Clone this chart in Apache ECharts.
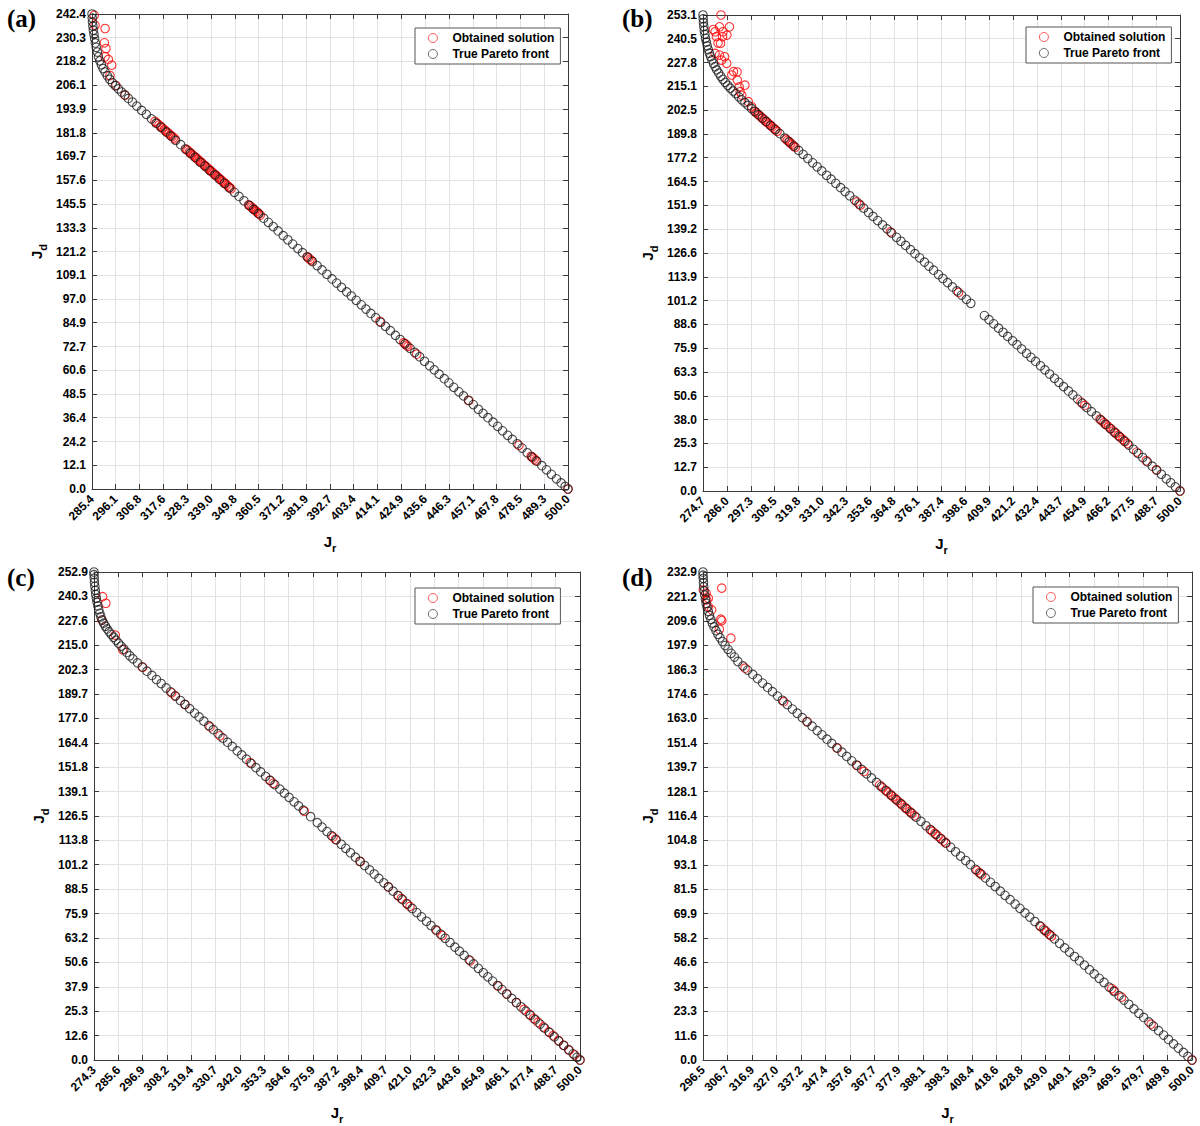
<!DOCTYPE html>
<html><head><meta charset="utf-8">
<script src="https://cdn.jsdelivr.net/npm/echarts@6/dist/echarts.min.js"></script>
<style>html,body{margin:0;padding:0;background:#fff}#c{width:1200px;height:1126px}</style>
</head><body><div id="c"></div>
<script>
// ---------- tick labels ----------
const jrTicksA = [285.4,296.1,306.8,317.6,328.3,339.0,349.8,360.5,371.2,381.9,392.7,403.4,414.1,424.9,435.6,446.3,457.1,467.8,478.5,489.3,500.0];
const jdTicksA = [0.0,12.1,24.2,36.4,48.5,60.6,72.7,84.9,97.0,109.1,121.2,133.3,145.5,157.6,169.7,181.8,193.9,206.1,218.2,230.3,242.4];
const jrTicksB = [274.7,286.0,297.3,308.5,319.8,331.0,342.3,353.6,364.8,376.1,387.4,398.6,409.9,421.2,432.4,443.7,454.9,466.2,477.5,488.7,500.0];
const jdTicksB = [0.0,12.7,25.3,38.0,50.6,63.3,75.9,88.6,101.2,113.9,126.6,139.2,151.9,164.5,177.2,189.8,202.5,215.1,227.8,240.5,253.1];
const jrTicksC = [274.3,285.6,296.9,308.2,319.4,330.7,342.0,353.3,364.6,375.9,387.2,398.4,409.7,421.0,432.3,443.6,454.9,466.1,477.4,488.7,500.0];
const jdTicksC = [0.0,12.6,25.3,37.9,50.6,63.2,75.9,88.5,101.2,113.8,126.5,139.1,151.8,164.4,177.0,189.7,202.3,215.0,227.6,240.3,252.9];
const jrTicksD = [296.5,306.7,316.9,327.0,337.2,347.4,357.6,367.7,377.9,388.1,398.3,408.4,418.6,428.8,439.0,449.1,459.3,469.5,479.7,489.8,500.0];
const jdTicksD = [0.0,11.6,23.3,34.9,46.6,58.2,69.9,81.5,93.1,104.8,116.4,128.1,139.7,151.4,163.0,174.6,186.3,197.9,209.6,221.2,232.9];

// ---------- series: [Jr, Jd] ----------
const trueFrontA = [[285.4,242.4],[285.5,240.3],[285.6,238.3],[285.8,236.2],[286.0,234.1],[286.3,232.0],[286.6,229.8],[286.9,227.6],[287.3,225.4],[287.8,223.0],[288.3,220.6],[288.9,218.5],[289.6,216.5],[290.4,214.6],[291.3,212.8],[292.3,210.9],[293.4,209.1],[294.6,207.3],[295.9,205.8],[297.3,204.2],[298.7,202.6],[300.2,201.1],[301.8,199.3],[303.6,197.5],
[305.6,195.4],[307.8,193.2],[309.9,191.2],[312.2,188.9],[314.3,186.7],[316.5,184.6],[318.8,182.2],[320.9,180.2],[323.1,177.9],[325.4,175.7],[327.5,173.5],[329.7,171.4],[331.9,169.2],[334.2,166.8],[336.3,164.8],[338.5,162.5],[340.8,160.3],[342.9,158.1],[345.1,156.0],[347.3,153.7],[349.6,151.4],[351.7,149.3],[353.9,147.1],[356.2,144.8],[358.3,142.7],[360.5,140.5],[362.8,138.2],[364.9,136.1],[367.1,133.9],[369.3,131.7],[371.6,129.3],[373.7,127.2],[375.9,125.0],[378.2,122.7],[380.3,120.6],[382.5,118.4],[384.8,116.1],[386.9,114.0],[389.1,111.8],[391.3,109.6],[393.6,107.2],[395.7,105.1],[397.9,102.9],[400.2,100.6],[402.3,98.5],[404.5,96.3],[406.8,94.0],[408.9,91.8],[411.1,89.6],[413.3,87.4],[415.6,85.1],[417.7,83.0],[419.9,80.8],[422.2,78.4],[424.3,76.3],[426.5,74.1],[428.8,71.8],[430.9,69.7],[433.1,67.5],[435.3,65.2],[437.6,62.9],[439.7,60.8],[441.9,58.6],[444.2,56.3],[446.3,54.2],[448.5,51.9],[450.8,49.6],[452.9,47.5],[455.1,45.3],[457.3,43.1],[459.6,40.7],[461.7,38.6],[463.9,36.4],[466.2,34.1],[468.3,32.0],[470.5,29.7],[472.8,27.4],[474.9,25.3],[477.1,23.1],[479.3,20.9],[481.6,18.5],[483.7,16.4],[485.9,14.2],[488.2,11.9],[490.3,9.8],[492.5,7.5],[494.8,5.2],[496.9,3.1],[498.7,1.3],[500.0,0.0]];
const obtainedA = [[286.4,241.8],[286.8,236.7],[291.3,235.0],[291.0,227.7],[291.7,224.8],[291.3,220.6],[292.8,219.2],[294.3,216.3],[293.5,211.0],[296.2,206.0],[300.3,201.0],
[313.8,187.6],[314.7,186.7],[315.6,185.8],[316.4,185.0],[317.2,184.2],[318.0,183.4],[318.6,182.8],[319.4,182.0],[320.1,181.3],[320.8,180.6],[321.5,179.9],[322.2,179.2],[322.8,178.6],
[328.0,173.3],[328.6,172.7],[329.3,172.0],[329.9,171.4],[330.5,170.8],[331.2,170.1],[331.8,169.5],[332.4,168.9],[333.0,168.3],[333.7,167.6],[334.3,167.0],[334.9,166.4],[335.5,165.8],[336.2,165.1],[336.8,164.5],[337.4,163.9],[338.0,163.3],[338.7,162.6],[339.3,162.0],[339.9,161.4],[340.6,160.7],[341.2,160.1],[341.8,159.5],[342.4,158.9],[343.1,158.2],[343.7,157.6],[344.3,157.0],[345.0,156.3],[345.6,155.7],[346.2,155.1],[346.9,154.4],[347.5,153.8],[348.1,153.2],
[356.0,145.0],[356.6,144.5],[357.2,143.9],[357.8,143.3],[358.4,142.7],[358.9,142.2],[359.5,141.6],[360.1,141.0],[360.7,140.4],[361.3,139.8],
[382.4,118.5],[383.0,117.9],[383.7,117.2],[384.3,116.6],[415.2,85.5],[425.9,74.7],[426.5,74.1],[427.2,73.4],[427.8,72.8],[431.8,68.8],[455.3,45.1],[477.9,22.3],[483.4,16.7],[484.1,16.0],[484.8,15.3],[485.5,14.6],[500.0,0.0]];

const trueFrontB = [[274.7,253.1],[274.8,251.1],[274.9,249.1],[275.1,247.0],[275.3,244.9],[275.6,242.8],[275.9,240.7],[276.3,238.7],[276.7,236.7],[277.2,234.7],[277.7,232.8],[278.3,231.0],[278.9,229.2],[279.6,227.4],[280.4,225.6],[281.2,223.9],[282.1,222.2],[283.1,220.5],[284.1,218.9],[285.2,217.3],[286.4,215.7],[287.6,214.2],[288.9,212.7],[290.2,211.3],[291.6,209.6],[293.0,208.0],[294.5,206.5],[296.0,205.0],[297.6,203.4],[299.2,201.8],[300.9,200.1],[302.7,198.3],
[304.5,196.5],[306.7,194.3],[308.8,192.2],[311.0,190.0],[313.3,187.7],[315.4,185.6],[317.6,183.4],[319.9,181.1],[322.0,179.0],[324.2,176.8],[326.5,174.5],[328.6,172.4],[330.8,170.2],[333.1,167.9],[335.2,165.8],[337.4,163.6],[339.7,161.3],[341.8,159.2],[344.0,157.0],[346.3,154.7],[348.4,152.6],[350.6,150.4],[352.9,148.1],[355.0,146.0],[357.2,143.8],[359.5,141.5],[361.6,139.4],[363.8,137.2],[366.1,134.9],[368.2,132.8],[370.4,130.6],[372.7,128.3],[374.8,126.2],[377.0,124.0],[379.3,121.7],[381.4,119.6],[383.6,117.4],[385.9,115.1],[388.0,113.0],[390.2,110.8],[392.5,108.5],[394.6,106.4],[396.8,104.2],[399.1,101.9],[401.2,99.8],
[407.6,93.3],[409.8,91.1],[412.0,88.9],[414.3,86.6],[416.4,84.4],[418.6,82.2],[420.9,79.9],[423.0,77.8],[425.2,75.5],[427.5,73.2],[429.6,71.1],[431.8,68.9],[434.1,66.6],[436.2,64.4],[438.4,62.2],[440.7,59.9],[442.8,57.8],[445.0,55.5],[447.3,53.2],[449.4,51.1],[451.6,48.9],[453.9,46.6],[456.0,44.4],[458.2,42.2],[460.5,39.9],[462.6,37.8],[464.8,35.5],[467.1,33.2],[469.2,31.1],[471.4,28.9],[473.7,26.6],[475.8,24.4],[478.0,22.2],[480.3,19.9],[482.4,17.8],[484.6,15.5],[486.9,13.2],[489.0,11.1],[491.2,8.9],[493.5,6.5],[495.6,4.4],[497.8,2.2],[500.0,0.0]];
const obtainedB = [[283.2,253.1],[287.2,246.8],[282.5,246.8],[279.6,245.4],[280.4,244.2],[284.1,244.2],[286.0,242.4],[281.0,241.6],[283.9,241.6],[281.8,238.2],[283.0,238.0],[280.4,232.7],[282.5,231.8],[284.9,230.9],[283.5,229.1],[285.9,227.4],[289.1,223.0],[290.8,222.8],[288.3,221.2],[290.9,218.5],[294.5,215.8],[291.8,214.9],[292.2,212.3],[293.0,210.5],[296.1,207.0],[297.7,204.3],
[299.0,202.0],[299.8,201.2],[300.5,200.5],[301.3,199.7],[302.0,199.0],[302.8,198.2],[303.6,197.4],[304.4,196.6],[305.1,195.9],[305.8,195.2],[306.5,194.5],[307.4,193.6],[308.2,192.8],[309.0,192.0],[309.7,191.3],[313.9,187.1],[314.6,186.4],[315.3,185.7],[316.1,184.9],[316.8,184.2],[317.6,183.4],[318.3,182.7],[347.3,153.7],[349.0,152.0],[363.2,137.8],[395.4,105.6],
[453.2,47.3],[455.0,45.5],[462.2,38.2],[463.2,37.2],[464.1,36.3],[465.2,35.2],[466.3,34.1],[467.4,33.0],[468.5,31.9],[469.7,30.7],[470.8,29.6],[471.9,28.5],[473.0,27.4],[474.1,26.3],[475.2,25.2],[479.5,20.7],[484.0,16.1],[488.8,11.3],[500.0,0.0]];

const trueFrontC = [[274.3,252.9],[274.3,251.5],[274.4,249.7],[274.5,247.6],[274.7,245.5],[274.9,243.4],[275.1,241.3],[275.4,239.3],[275.7,237.3],[276.1,235.3],[276.5,233.4],[277.0,231.5],[277.5,229.7],[278.1,228.0],[278.8,226.4],[279.6,224.8],[280.4,223.4],[281.3,222.0],[282.3,220.6],[283.4,219.1],[284.5,217.6],[285.7,216.0],[286.9,214.5],[288.2,212.9],[289.5,211.2],[290.9,209.5],
[292.4,207.9],[294.5,205.8],[296.7,203.7],[298.9,201.5],[301.2,199.3],[303.3,197.2],[305.5,195.1],[307.8,192.8],[309.9,190.8],[312.1,188.6],[314.4,186.3],[316.5,184.3],[318.7,182.1],[321.0,179.8],[323.1,177.8],[325.3,175.6],[327.6,173.3],[329.7,171.2],[331.9,169.1],[334.2,166.8],[336.3,164.7],[338.5,162.5],[340.8,160.2],[342.9,158.1],[345.1,155.9],[347.4,153.6],[349.5,151.5],[351.7,149.3],[354.0,147.0],[356.1,144.9],[358.3,142.7],[360.6,140.4],[362.7,138.3],[364.9,136.1],[367.2,133.8],[369.3,131.7],[371.5,129.5],[374.9,126.1],[378.0,123.0],[380.2,120.7],[382.5,118.4],[384.6,116.3],[386.8,114.1],[389.1,111.8],[391.2,109.7],[393.4,107.4],[395.7,105.1],[397.8,103.0],[400.0,100.8],[402.3,98.5],[404.4,96.4],[406.6,94.1],[408.9,91.8],[411.0,89.7],[413.2,87.5],[415.5,85.2],[417.6,83.1],[419.8,80.8],[422.1,78.5],[424.2,76.4],[426.4,74.2],[428.7,71.9],[430.8,69.7],[433.0,67.5],[435.3,65.2],[437.4,63.1],[439.6,60.9],[441.9,58.5],[444.0,56.4],[446.2,54.2],[448.5,51.9],[450.6,49.8],[452.8,47.5],[455.1,45.2],[457.2,43.1],[459.4,40.9],[461.7,38.6],[463.8,36.5],[466.0,34.2],[468.3,31.9],[470.4,29.8],[472.6,27.6],[474.9,25.3],[477.0,23.2],[479.2,20.9],[481.5,18.6],[483.6,16.5],[485.8,14.3],[488.1,12.0],[490.2,9.8],[492.4,7.6],[494.7,5.3],[496.8,3.2],[498.6,1.4],[500.0,0.0]];
const obtainedC = [[278.3,240.1],[279.8,236.7],[284.2,220.2],[277.9,228.0],[287.6,212.6],[296.9,203.5],[310.4,190.3],[312.0,188.7],[316.6,184.2],[328.2,172.6],[332.8,168.0],[346.8,154.1],[356.0,144.9],[357.5,143.4],[372.0,128.9],[385.3,115.6],[386.5,114.4],[398.0,102.8],[411.0,89.7],[415.5,85.2],[417.0,83.7],[419.5,81.1],[421.0,79.6],[433.5,67.0],[436.0,64.5],[449.0,51.4],[462.0,38.3],[466.0,34.2],[470.5,29.7],[474.0,26.2],[476.5,23.7],[478.5,21.6],[480.5,19.6],[483.0,17.1],[485.5,14.6],[487.5,12.6],[490.0,10.1],[492.5,7.6],[495.0,5.1],[497.5,2.6],[500.0,0.0]];

const trueFrontD = [[296.5,232.9],[296.5,231.4],[296.6,229.9],[296.7,227.9],[296.8,225.9],[297.0,223.9],[297.2,221.9],[297.5,219.9],[297.8,218.0],[298.2,216.1],[298.7,214.1],[299.2,212.2],[299.8,210.3],[300.4,208.5],[301.1,206.7],[301.9,204.9],[302.7,203.2],[303.6,201.5],[304.6,199.7],[305.7,197.8],[306.9,196.0],[308.2,194.1],[309.6,192.3],
[311.0,190.2],[313.1,188.1],[315.1,186.1],[317.2,184.0],[319.2,182.0],[321.3,179.9],[323.4,177.8],[325.4,175.8],[327.5,173.7],[329.5,171.7],[331.6,169.6],[333.7,167.5],[335.7,165.5],[337.8,163.4],[339.8,161.4],[341.9,159.3],[344.0,157.2],[346.0,155.2],[348.1,153.1],[350.1,151.1],[352.2,149.0],[354.3,146.9],[356.3,144.9],[358.4,142.8],[360.4,140.8],[362.5,138.7],[364.6,136.6],[366.6,134.6],[368.7,132.5],[370.7,130.5],[372.8,128.4],[374.9,126.3],[376.9,124.3],[379.0,122.2],[381.0,120.1],[383.1,118.0],[385.2,115.9],[387.2,113.9],[389.3,111.8],[391.3,109.8],[393.4,107.7],[395.5,105.6],[397.5,103.6],[399.6,101.5],[401.6,99.4],[403.7,97.3],[405.8,95.2],[407.8,93.2],[409.9,91.0],[411.9,89.0],[414.0,86.9],[416.1,84.8],[418.1,82.8],[420.2,80.6],[422.2,78.6],[424.3,76.5],[426.4,74.4],[428.4,72.4],[430.5,70.2],[432.5,68.2],[434.6,66.1],[436.7,64.0],[438.7,61.9],[440.8,59.8],[442.8,57.8],[444.9,55.7],[447.0,53.5],[449.0,51.5],[451.1,49.4],[453.1,47.4],[455.2,45.3],[457.3,43.1],[459.3,41.1],[461.4,39.0],[463.4,37.0],[465.5,34.8],[467.6,32.7],[469.6,30.7],[471.7,28.6],[473.7,26.6],[475.8,24.4],[477.9,22.3],[479.9,20.3],[482.0,18.2],[484.0,16.1],[486.1,14.0],[488.2,11.9],[490.2,9.8],[492.3,7.7],[494.3,5.7],[496.4,3.6],[498.3,1.7],[500.0,0.0]];
const obtainedD = [[304.3,225.2],[298.7,220.4],[297.8,222.8],[296.6,224.3],[298.0,219.6],[298.7,216.4],[300.1,214.8],[303.9,210.4],[304.3,209.7],[303.3,205.6],[308.1,201.3],[314.0,187.0],[330.1,171.0],[339.8,161.5],[352.4,148.8],[360.7,140.5],[363.5,137.7],[370.0,131.2],[371.3,129.9],[372.5,128.7],[373.6,127.6],[374.6,126.6],[375.6,125.6],[376.5,124.7],[377.5,123.7],[378.5,122.7],[379.5,121.6],[380.5,120.6],[381.5,119.6],[382.5,118.6],[383.5,117.6],[384.5,116.6],[391.0,110.1],[392.0,109.1],[393.0,108.1],[394.3,106.8],[395.5,105.6],[396.6,104.5],[397.6,103.5],[410.5,90.4],[411.5,89.4],[412.5,88.4],[437.0,63.7],[438.2,62.5],[439.4,61.2],[440.5,60.1],[441.5,59.1],[466.6,34.1],[467.6,33.1],[470.7,30.0],[483.0,17.1],[500.0,0.0]];

const seriesNames = ['Obtained solution', 'True Pareto front'];
const panelTags = ['(a)', '(b)', '(c)', '(d)'];

// ---------- layout ----------
const layout = [
  {grid:{left:92, top:14, width:476, height:475}, legend:{left:415, top:28}, tag:{x:7, y:6}},
  {grid:{left:703, top:15, width:477, height:476}, legend:{left:1026, top:27}, tag:{x:622, y:6}},
  {grid:{left:94, top:572, width:486, height:488}, legend:{left:415, top:588}, tag:{x:7, y:565}},
  {grid:{left:703, top:572, width:489, height:488}, legend:{left:1033, top:587}, tag:{x:622, y:565}}
];
const panelData = [
  {jr:jrTicksA, jd:jdTicksA, obt:obtainedA, tru:trueFrontA},
  {jr:jrTicksB, jd:jdTicksB, obt:obtainedB, tru:trueFrontB},
  {jr:jrTicksC, jd:jdTicksC, obt:obtainedC, tru:trueFrontC},
  {jr:jrTicksD, jd:jdTicksD, obt:obtainedD, tru:trueFrontD}
];

const FONT = '"Liberation Sans", Arial, sans-serif';
const AX = '#3a3a3a';
const fmt = v => Number(v).toFixed(1);
const richJ = {
  j:{fontSize:15, fontWeight:'bold', fontFamily:FONT, color:'#000', lineHeight:24, verticalAlign:'middle'},
  s:{fontSize:11, fontWeight:'bold', fontFamily:FONT, color:'#000', lineHeight:24, verticalAlign:'bottom'}
};

const grid=[], xAxis=[], yAxis=[], series=[], legend=[], graphic=[];
panelData.forEach((p, i) => {
  const L = layout[i];
  grid.push(Object.assign({show:false}, L.grid));
  const xMin = p.jr[0], xMax = p.jr[p.jr.length-1];
  const yMin = p.jd[0], yMax = p.jd[p.jd.length-1];
  const base = (min,max,ticks) => ({
    type:'value', min:min, max:max, gridIndex:i,
    axisLine:{show:true, onZero:false, lineStyle:{color:AX, width:1}},
    axisTick:{show:true, inside:true, length:5, customValues:ticks, lineStyle:{color:AX, width:1}}
  });
  xAxis[i] = Object.assign(base(xMin,xMax,p.jr), {
    position:'bottom',
    axisLabel:{show:true, customValues:p.jr, rotate:45, margin:8, formatter:fmt,
      fontFamily:FONT, fontWeight:'bold', fontSize:12, color:'#000'},
    splitLine:{show:true, lineStyle:{color:'#e2e2e2', width:1}},
    name:'{j|J}{s|r}', nameLocation:'middle', nameGap:40,
    nameTextStyle:{rich:richJ}
  });
  xAxis[i+4] = Object.assign(base(xMin,xMax,p.jr), {
    position:'top', axisLabel:{show:false}, splitLine:{show:false}
  });
  yAxis[i] = Object.assign(base(yMin,yMax,p.jd), {
    position:'left',
    axisLabel:{show:true, customValues:p.jd, margin:6, formatter:fmt,
      fontFamily:FONT, fontWeight:'bold', fontSize:12, color:'#000'},
    splitLine:{show:true, lineStyle:{color:'#e2e2e2', width:1}},
    name:'{j|J}{s|d}', nameLocation:'middle', nameGap:44, nameRotate:90,
    nameTextStyle:{rich:richJ}
  });
  yAxis[i+4] = Object.assign(base(yMin,yMax,p.jd), {
    position:'right', axisLabel:{show:false}, splitLine:{show:false}
  });
  series.push({
    type:'scatter', name:seriesNames[0], xAxisIndex:i, yAxisIndex:i, data:p.obt,
    symbol:'circle', symbolSize:8.5,
    itemStyle:{color:'rgba(0,0,0,0)', borderColor:'#ff0000', borderWidth:1.1},
    emphasis:{disabled:true}
  });
  series.push({
    type:'scatter', name:seriesNames[1], xAxisIndex:i, yAxisIndex:i, data:p.tru,
    symbol:'circle', symbolSize:8.5,
    itemStyle:{color:'rgba(0,0,0,0)', borderColor:'#1a1a1a', borderWidth:1.1},
    emphasis:{disabled:true}
  });
  legend.push({
    left:L.legend.left, top:L.legend.top, orient:'vertical', data:seriesNames,
    selectedMode:false, backgroundColor:'#fff', borderColor:'#555', borderWidth:1,
    padding:[3,6,3,13], itemGap:2, itemWidth:9, itemHeight:9, icon:'circle',
    itemStyle:{borderWidth:0.8},
    textStyle:{fontFamily:FONT, fontWeight:'bold', fontSize:12, color:'#000', padding:[0,0,0,10], lineHeight:14}
  });
  graphic.push({type:'text', left:L.tag.x, top:L.tag.y,
    style:{text:panelTags[i], font:'bold 25px "Liberation Serif", "Times New Roman", serif', fill:'#000'}});
});

const chart = echarts.init(document.getElementById('c'), null, {renderer:'svg'});
chart.setOption({
  animation:false, backgroundColor:'#fff',
  grid, xAxis, yAxis, series, legend, graphic
});
</script></body></html>
